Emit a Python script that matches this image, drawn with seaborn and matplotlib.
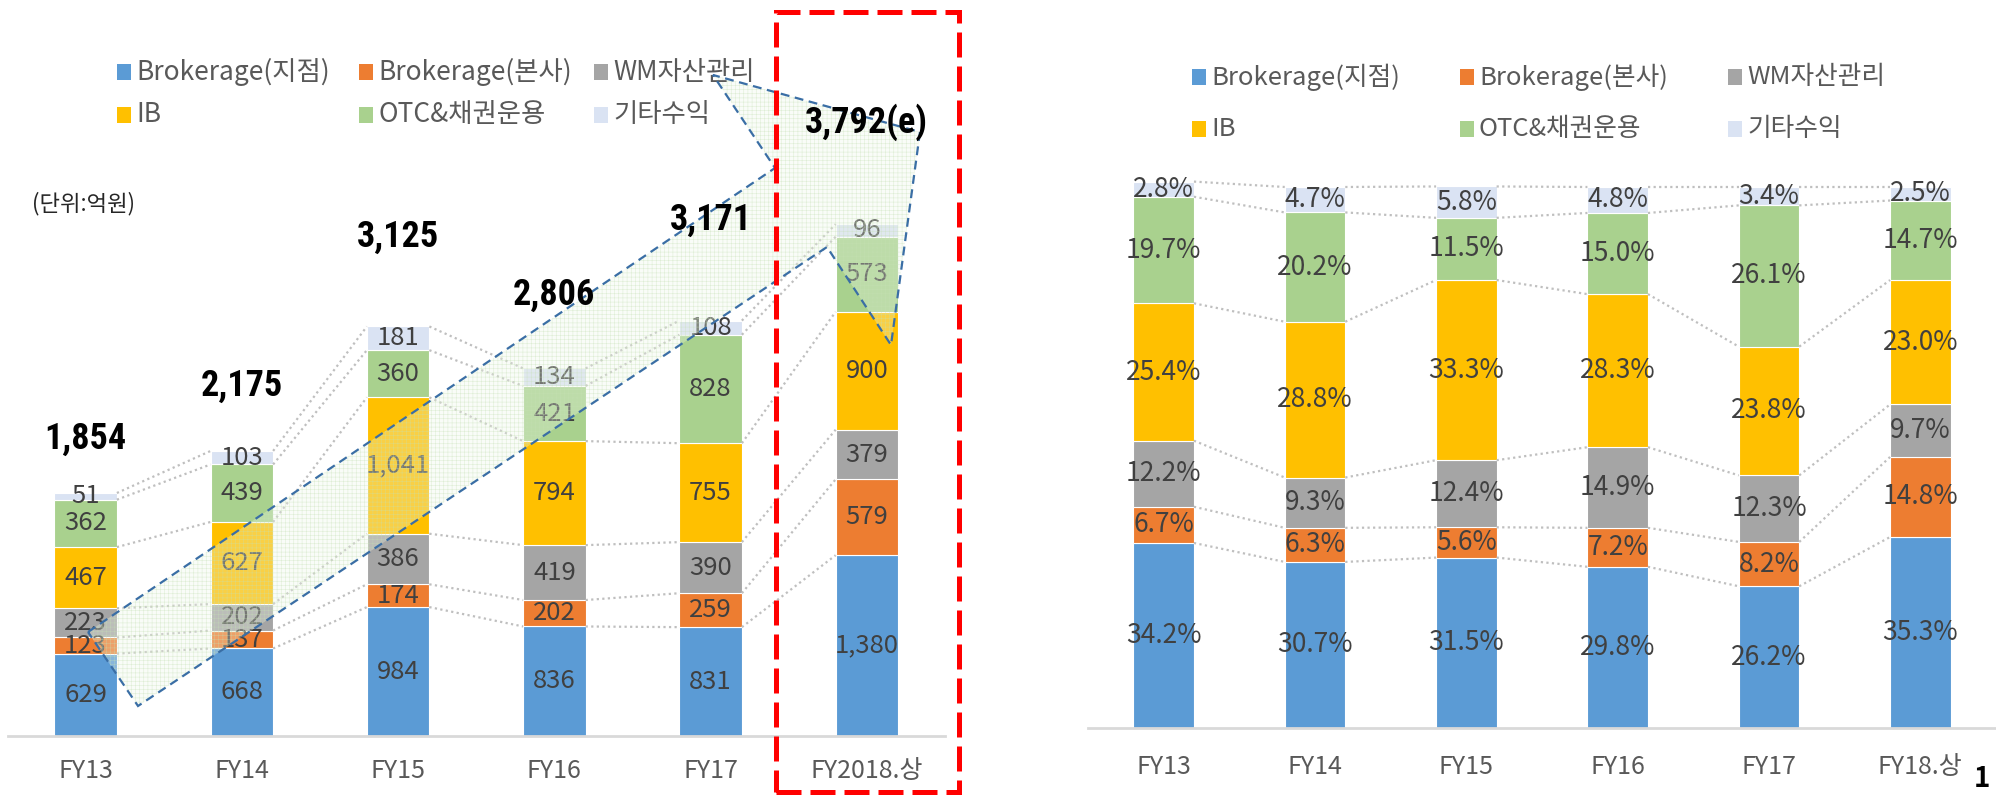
import numpy as np
import pandas as pd
import matplotlib
matplotlib.use("Agg")
import matplotlib.pyplot as plt
from matplotlib import font_manager
from matplotlib.patches import Polygon, Rectangle
import seaborn as sns

# Data
series = ["Brokerage(지점)", "Brokerage(본사)", "WM자산관리", "IB", "OTC&채권운용", "기타수익"]
colors = ["#5B9BD5", "#ED7D31", "#A5A5A5", "#FFC000", "#A9D18E", "#DAE3F3"]

years_amt = ["FY13", "FY14", "FY15", "FY16", "FY17", "FY2018.상"]
branch_amt = [629, 668, 984, 836, 831, 1380]
hq_amt = [123, 137, 174, 202, 259, 579]
wm_amt = [223, 202, 386, 419, 390, 379]
ib_amt = [467, 627, 1041, 794, 755, 900]
otc_amt = [362, 439, 360, 421, 828, 573]
other_amt = [51, 103, 181, 134, 108, 96]
total_labels = ["1,854", "2,175", "3,125", "2,806", "3,171", "3,792(e)"]

years_pct = ["FY13", "FY14", "FY15", "FY16", "FY17", "FY18.상"]
branch_pct = [34.2, 30.7, 31.5, 29.8, 26.2, 35.3]
hq_pct = [6.7, 6.3, 5.6, 7.2, 8.2, 14.8]
wm_pct = [12.2, 9.3, 12.4, 14.9, 12.3, 9.7]
ib_pct = [25.4, 28.8, 33.3, 28.3, 23.8, 23.0]
otc_pct = [19.7, 20.2, 11.5, 15.0, 26.1, 14.7]
other_pct = [2.8, 4.7, 5.8, 4.8, 3.4, 2.5]

# how far above each bar the big total sits (data units)
total_label_pad = [412, 496, 683, 560, 768, 780]

sns.set_theme(style="white")
plt.rcParams["font.family"] = ["Noto Sans CJK KR", "DejaVu Sans"]
plt.rcParams["hatch.linewidth"] = 0.4

# condensed bold face for the totals if one is around
installed = {f.name for f in font_manager.fontManager.ttflist}
if "Roboto Condensed" in installed:
    total_family, total_size = ["Roboto Condensed", "Noto Sans CJK KR"], 26
elif "Liberation Sans Narrow" in installed:
    total_family, total_size = ["Liberation Sans Narrow", "Noto Sans CJK KR"], 26
else:
    total_family, total_size = ["Noto Sans CJK KR", "DejaVu Sans"], 22

W, H = 1996, 795
fig = plt.figure(figsize=(W / 100, H / 100), dpi=100)

def fx(px):
    return px / W

def fy(py):
    return 1 - py / H

label_color = "#404040"
tick_color = "#595959"


def stacked(ax, years, cols, fmt, fsize):
    df = pd.DataFrame(dict(zip(series, cols)), index=years)
    bottom = np.zeros(len(years))
    for name, color in zip(series, colors):
        vals = df[name].values
        sns.barplot(x=years, y=vals, color=color, saturation=1, width=0.4,
                    errorbar=None, bottom=bottom, edgecolor="white",
                    linewidth=0.8, ax=ax)
        for i, v in enumerate(vals):
            ax.text(i, bottom[i] + v / 2, fmt(v), ha="center", va="center",
                    fontsize=fsize, color=label_color, zorder=5)
        bottom = bottom + vals
    # dotted series lines between neighbouring bars
    cum = df.cumsum(axis=1).values
    for j in range(len(series)):
        for i in range(len(years) - 1):
            ax.plot([i + 0.2, i + 0.8], [cum[i, j], cum[i + 1, j]],
                    color="#BFBFBF", linestyle=(0, (1, 1.5)), lw=1.6, zorder=1)
    return bottom


def style_axis(ax, pad):
    ax.set_xlim(-0.5, 5.5)
    for s in ["top", "left", "right"]:
        ax.spines[s].set_visible(False)
    ax.spines["bottom"].set_color("#D9D9D9")
    ax.spines["bottom"].set_linewidth(2)
    ax.set_yticks([])
    ax.set_xlabel("")
    ax.set_ylabel("")
    ax.tick_params(axis="x", length=0, pad=pad, labelsize=18, labelcolor=tick_color)
    ax.patch.set_alpha(0)


# Left: amounts
ax1 = fig.add_axes([fx(7.5), fy(736), fx(945 - 7.5), 736 / H])
tot = stacked(ax1, years_amt,
              [branch_amt, hq_amt, wm_amt, ib_amt, otc_amt, other_amt],
              lambda v: f"{v:,}", 18.5)
ax1.set_ylim(0, 736 / 0.131)
style_axis(ax1, 16)
# totals go on the figure so they sit above the arrow overlay
for i, (t, lab) in enumerate(zip(tot, total_labels)):
    fig.text(i, t + total_label_pad[i], lab, transform=ax1.transData,
             ha="center", va="center", fontsize=total_size, fontweight="bold",
             color="black", family=total_family, zorder=10)

# Right: shares
ax2 = fig.add_axes([fx(1088), fy(728), fx(1996 - 1088), 728 / H])
stacked(ax2, years_pct,
        [branch_pct, hq_pct, wm_pct, ib_pct, otc_pct, other_pct],
        lambda v: f"{v:.1f}%", 19)
ax2.set_ylim(0, 728 / 5.41)
style_axis(ax2, 19)

fig.text(fx(32), fy(204), "(단위:억원)", fontsize=16, va="center", color="#262626")


# legends, 3 per row
def legend_block(col_x, row_y, fsize):
    for k, (name, color) in enumerate(zip(series, colors)):
        x, y = col_x[k % 3], row_y[k // 3]
        fig.patches.append(Rectangle((fx(x - 7), fy(y + 8)), 14 / W, 16 / H,
                                     transform=fig.transFigure, facecolor=color,
                                     edgecolor="none"))
        fig.text(fx(x + 12), fy(y), name, fontsize=fsize, va="center", color=tick_color)


legend_block([124, 366, 601], [72, 115], 19)
legend_block([1199, 1467, 1735], [77, 129], 18.5)

# big growth arrow
arrow_px = [(88, 632), (775, 168), (713, 75), (920, 132), (891, 345), (827, 247), (138, 706)]
arrow_pts = [(fx(x), fy(y)) for x, y in arrow_px]
fig.patches.append(Polygon(arrow_pts, closed=True, transform=fig.transFigure,
                           facecolor="#EEF6E8", alpha=0.3, edgecolor="none", zorder=3))
fig.patches.append(Polygon(arrow_pts, closed=True, transform=fig.transFigure,
                           fill=False, hatch="++++", edgecolor="#C5E0B4", lw=0,
                           alpha=0.5, zorder=3))
fig.patches.append(Polygon(arrow_pts, closed=True, transform=fig.transFigure,
                           fill=False, edgecolor="#3A6EA5", lw=1.6,
                           linestyle=(0, (4, 2.5)), zorder=4))

# red dashed box around the estimate
fig.patches.append(Rectangle((fx(776), fy(792)), fx(959 - 776), (792 - 12) / H,
                             transform=fig.transFigure, fill=False,
                             edgecolor="#FF0000", lw=3.6,
                             linestyle=(0, (5, 1.8)), zorder=5))

fig.text(fx(1974), fy(793), "1", fontsize=20, fontweight="bold", va="bottom", color="black")

fig.savefig("out.png", dpi=100)
